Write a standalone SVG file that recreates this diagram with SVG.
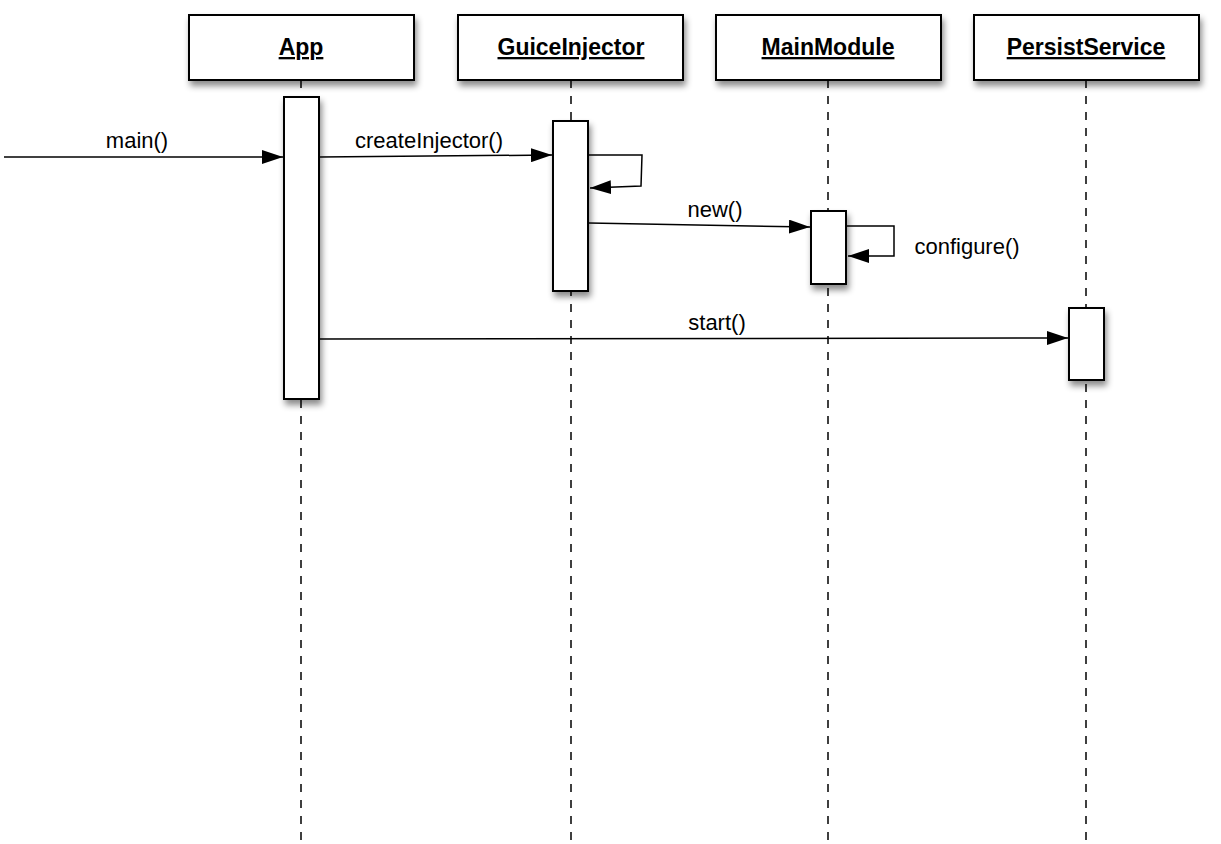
<svg xmlns="http://www.w3.org/2000/svg" width="1221" height="844" viewBox="0 0 1221 844">
<style>
.box{fill:#fff;stroke:#000;stroke-width:2;filter:url(#sh)}
.act{fill:#fff;stroke:#000;stroke-width:2;filter:url(#sh)}
.life{stroke:#000;stroke-width:1.5;stroke-dasharray:8,8;fill:none}
.title{font-family:"Liberation Sans",Arial,sans-serif;font-weight:bold;font-size:23px;text-decoration:underline;text-anchor:middle}
.msg{stroke:#000;stroke-width:1.5;fill:none;marker-end:url(#ah)}
.lbl{font-family:"Liberation Sans",Arial,sans-serif;font-size:22px;text-anchor:middle}
</style>
<defs>
<filter id="sh" x="-20%" y="-20%" width="150%" height="150%"><feDropShadow dx="2" dy="5" stdDeviation="3" flood-opacity="0.45"/></filter>
<marker id="ah" markerWidth="22" markerHeight="14" refX="21" refY="7" orient="auto" markerUnits="userSpaceOnUse"><path d="M0,0 L21,7 L0,14 Z" fill="#000"/></marker>
</defs>
<rect width="1221" height="844" fill="#fff"/>
<g id="lifelines">
<line class="life" x1="301" y1="80" x2="301" y2="844"/>
<line class="life" x1="571" y1="80" x2="571" y2="844"/>
<line class="life" x1="828" y1="80" x2="828" y2="844"/>
<line class="life" x1="1086" y1="80" x2="1086" y2="844"/>
</g>
<g id="App"><rect class="box" x="189" y="15" width="225" height="65"/><text class="title" x="301" y="55">App</text><rect class="act" x="284" y="97" width="35" height="302"/></g>
<g id="GuiceInjector"><rect class="box" x="458" y="15" width="225" height="65"/><text class="title" x="571" y="55">GuiceInjector</text><rect class="act" x="553" y="121" width="35" height="170"/></g>
<g id="MainModule"><rect class="box" x="716" y="15" width="225" height="65"/><text class="title" x="828" y="55">MainModule</text><rect class="act" x="811" y="211" width="35" height="73"/></g>
<g id="PersistService"><rect class="box" x="974" y="15" width="225" height="65"/><text class="title" x="1086" y="55">PersistService</text><rect class="act" x="1069" y="308" width="35" height="72"/></g>
<g id="connectors">
<path class="msg" d="M4,157 L283,157"/>
<text class="lbl" x="137" y="148">main()</text>
<path class="msg" d="M320,157 L552,155"/>
<text class="lbl" x="429" y="148">createInjector()</text>
<path class="msg" d="M589,155 L642,155 L641,186 L590,188"/>
<path class="msg" d="M589,223 L810,227"/>
<text class="lbl" x="715" y="217">new()</text>
<path class="msg" d="M847,226 L894,226 L894,256 L848,256"/>
<text class="lbl" x="967" y="254">configure()</text>
<path class="msg" d="M320,339 L1068,338"/>
<text class="lbl" x="717" y="330">start()</text>
</g>
</svg>
